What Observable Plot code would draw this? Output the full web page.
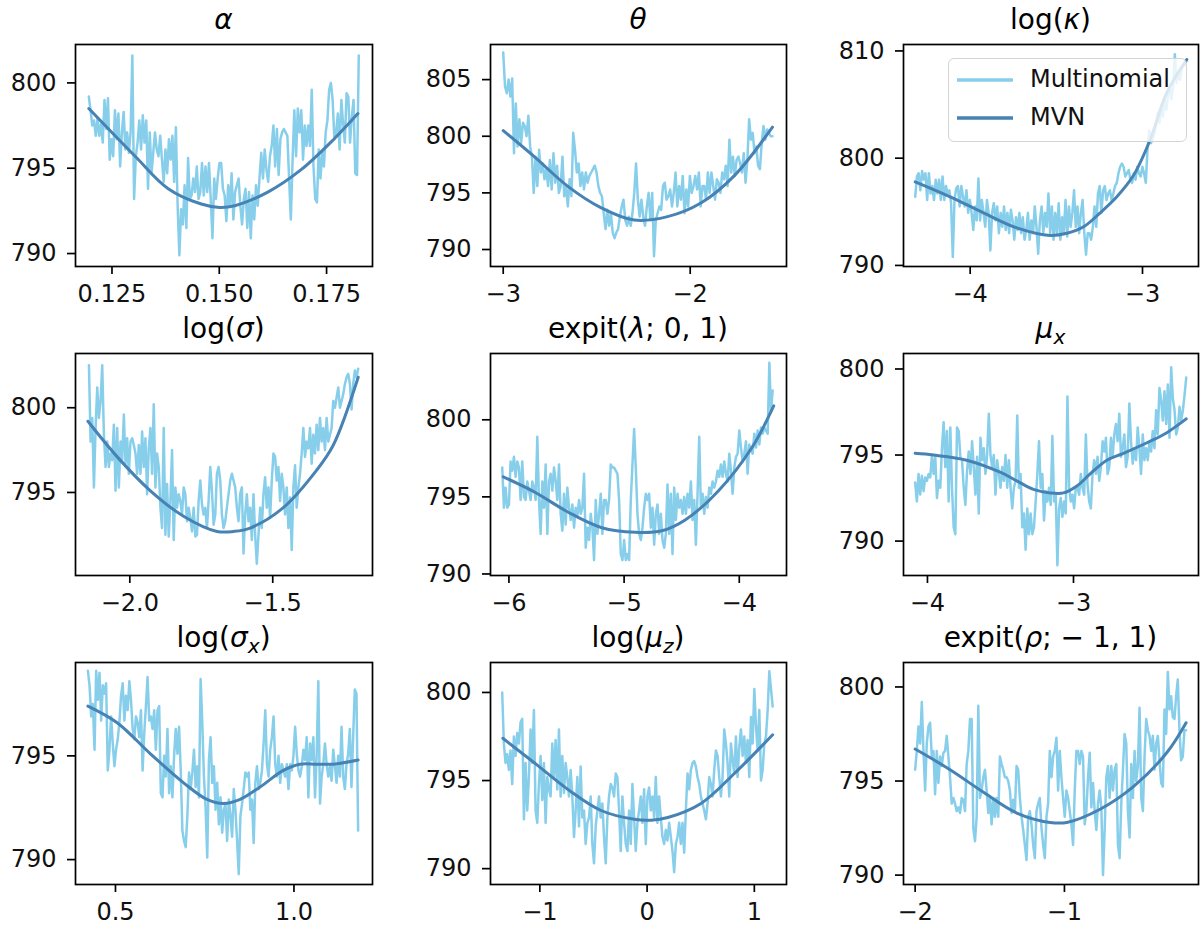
<!DOCTYPE html>
<html><head><meta charset="utf-8">
<script src="https://cdn.jsdelivr.net/npm/d3@7"></script>
<script src="https://cdn.jsdelivr.net/npm/@observablehq/plot@0.6"></script>
<style>
body{margin:0;background:#fff;}
#root{position:relative;width:1204px;height:927px;background:#fff;font-family:"DejaVu Sans",sans-serif;overflow:hidden;}
.panel{position:absolute;}
.panel svg{font-family:"DejaVu Sans",sans-serif;font-size:24px;max-width:none;}
.title{position:absolute;text-align:center;font-size:28px;line-height:28px;color:#000;white-space:nowrap;}
.title i{font-style:italic;}
.sub{font-size:0.72em;position:relative;top:0.28em;line-height:0;}
.legend{position:absolute;left:948px;top:58px;width:239px;height:84px;box-sizing:border-box;border:1.5px solid #d4d4d4;border-radius:6px;background:rgba(255,255,255,0.8);}
.legend span{position:absolute;left:81px;font-size:24px;line-height:24px;color:#111;white-space:nowrap;}
.legend svg{position:absolute;left:0;top:0;}
</style></head><body><div id="root"></div>
<script>
// ---------- data ----------
const titles = ["<i>α</i>", "<i>θ</i>", "log(<i>κ</i>)", "log(<i>σ</i>)", "expit(<i>λ</i>; 0, 1)",
  "<i>μ<span class='sub'>x</span></i>", "log(<i>σ<span class='sub'>x</span></i>)", "log(<i>μ<span class='sub'>z</span></i>)", "expit(<i>ρ</i>; − 1, 1)"];
const seriesNames = ["Multinomial", "MVN"];

// x ranges of the Multinomial grids
const alphaRange = [0.1196, 0.1825];
const thetaRange = [-3.0, -1.56];
const kappaRange = [-4.319, -2.743];
const sigmaRange = [-2.143, -1.201];
const lambdaRange = [-6.058, -3.71];
const muxRange = [-4.084, -2.228];
const sigmaxRange = [0.4227, 1.1797];
const muzRange = [-1.351, 1.171];
const rhoRange = [-2.0, -0.185];

// Multinomial (noisy) values
const alphaMulti = [799.2,798.4,797.5,797.8,796.9,797.9,796.9,797.6,796.5,799.0,797.3,799.1,795.5,796.7,795.7,798.4,796.7,798.2,795.1,797.1,798.3,796.1,797.1,795.9,797.1,801.6,793.2,795.7,796.5,797.8,796.1,798.1,796.5,797.8,793.8,797.1,794.7,795.9,797.1,796.1,795.7,796.9,795.5,794.2,796.1,794.7,796.7,795.5,796.9,794.2,797.4,792.8,789.9,792.6,791.7,794.0,791.5,795.6,793.2,793.4,794.4,793.6,795.1,793.2,793.6,795.3,793.4,795.1,793.6,795.3,793.2,790.9,794.4,793.2,794.4,795.3,795.3,793.8,793.4,791.9,794.0,792.8,794.7,792.0,793.6,794.0,794.4,792.8,791.7,793.2,793.8,791.5,793.6,790.9,793.4,792.0,794.0,792.8,794.4,795.9,794.4,796.1,794.9,794.2,795.7,796.3,797.5,795.1,797.3,794.6,796.7,797.1,797.3,797.1,796.9,794.4,792.0,795.5,798.4,795.7,798.5,797.1,798.4,795.5,797.5,796.3,797.5,796.3,799.6,795.1,793.2,793.0,796.1,794.4,795.9,795.1,797.1,797.8,799.6,800.0,799.0,796.7,797.1,798.2,796.1,799.0,797.6,796.5,799.4,799.2,796.5,798.0,799.0,794.7,794.6,801.6];
const thetaMulti = [807.4,804.4,803.8,805.0,803.5,805.1,798.5,802.9,799.1,801.5,799.4,801.2,800.9,800.0,801.8,799.1,798.2,795.0,798.2,795.6,798.8,796.8,797.6,796.2,797.1,795.6,797.9,795.3,798.5,795.9,797.4,795.0,795.6,798.2,794.7,795.6,793.8,796.2,794.7,800.3,798.8,796.8,797.6,795.6,796.8,795.3,796.8,795.9,796.5,796.8,797.1,797.4,796.8,795.6,795.0,794.7,793.2,791.8,793.5,792.1,793.2,791.5,791.0,791.5,791.8,792.9,793.8,794.4,792.6,792.1,792.9,792.1,793.2,795.0,797.6,794.4,792.9,794.4,792.9,792.1,793.8,795.0,792.6,795.0,789.4,792.6,793.2,793.8,793.5,795.6,795.9,794.4,794.7,795.3,793.8,795.0,796.8,793.8,795.6,794.4,796.5,793.2,795.3,793.8,796.5,795.0,795.6,796.5,795.3,796.8,793.8,795.6,795.6,794.4,796.8,795.0,796.8,795.6,794.4,796.2,795.9,795.0,796.8,796.2,797.4,795.6,799.7,796.8,798.2,796.5,797.9,798.2,797.6,796.8,798.5,795.9,797.9,801.5,799.7,800.3,798.5,799.1,797.4,797.1,799.4,800.9,799.7,800.6,800.3,800.0,800.0];
const kappaMulti = [796.4,798.3,798.6,797.0,798.8,798.0,798.6,796.1,798.6,796.7,797.4,796.1,798.0,796.7,798.0,796.1,798.3,796.1,797.4,796.7,797.0,795.8,790.8,796.1,797.2,797.4,795.5,797.4,796.4,795.5,797.0,794.9,796.1,794.9,793.3,795.5,794.2,798.1,794.2,796.1,794.9,793.6,796.1,794.9,791.4,794.9,795.8,794.2,795.5,793.0,794.9,793.6,795.5,793.3,794.9,793.0,795.2,794.2,792.4,794.5,793.3,794.9,793.0,794.5,792.4,793.3,794.9,792.4,794.2,793.0,795.5,793.6,791.1,794.2,795.5,793.0,794.9,793.6,796.7,793.0,795.5,792.4,794.9,793.0,795.8,792.4,794.5,793.0,796.1,792.7,795.5,793.6,794.9,797.0,793.6,795.5,793.0,794.9,796.1,793.0,791.0,793.0,793.0,792.4,793.6,795.5,793.6,796.7,797.4,794.9,797.0,797.4,796.1,796.7,797.0,796.1,796.7,797.4,797.7,798.6,799.2,799.5,799.2,798.3,798.6,798.9,798.0,797.7,798.6,798.0,799.2,798.6,798.3,799.2,798.6,797.7,800.8,802.6,801.4,801.7,802.3,803.0,804.2,803.3,804.5,803.9,805.5,804.5,805.8,806.7,805.5,806.7,809.7,807.0,807.9,807.3,808.3,808.6,808.7,809.2];
const sigmaMulti = [802.5,798.0,799.4,795.3,798.8,801.2,799.4,800.4,802.5,798.4,796.5,798.0,796.5,797.3,796.9,799.0,795.1,798.8,795.3,798.0,796.9,799.6,796.7,798.2,796.1,798.0,798.2,797.8,797.3,796.1,797.8,796.1,798.6,796.5,798.2,794.9,797.6,798.8,796.1,800.2,795.3,797.3,796.5,794.1,792.9,798.8,792.5,795.5,792.4,794.5,797.5,792.2,795.3,794.1,794.9,794.5,793.7,795.3,794.9,793.3,794.1,793.5,792.7,794.1,792.4,792.5,794.5,795.7,794.3,793.7,794.1,792.9,794.5,796.5,795.1,793.1,793.7,796.1,796.5,795.7,793.7,792.9,793.3,794.1,794.9,795.7,796.1,795.7,795.3,794.1,793.3,794.9,795.3,791.4,793.7,794.9,793.3,794.1,792.2,794.9,792.5,790.8,792.5,794.1,792.9,794.9,795.9,794.1,795.3,793.5,795.7,797.3,797.1,795.7,796.5,794.5,796.1,795.3,793.7,795.3,792.9,794.7,791.6,795.3,796.6,794.1,795.3,796.1,797.3,798.8,797.1,798.0,797.6,798.8,796.7,798.4,797.3,799.0,797.5,799.4,798.0,798.8,797.5,799.4,798.0,798.4,798.8,800.4,800.0,800.6,801.2,800.0,800.4,800.8,801.4,801.8,802.0,801.4,799.9,801.4,802.2,801.8,802.3];
const lambdaMulti = [796.9,794.3,795.6,794.3,794.5,797.3,796.7,797.6,796.3,797.3,796.9,794.8,797.3,795.0,794.8,796.0,795.4,794.8,796.0,795.6,794.8,798.9,794.8,792.6,796.0,794.3,797.1,792.6,796.0,796.5,795.4,796.9,796.0,794.8,797.1,793.9,792.8,795.2,793.2,795.6,794.3,793.5,794.5,793.0,794.3,793.7,794.8,793.9,794.3,796.5,791.7,793.0,792.2,793.9,793.0,790.9,794.8,792.6,793.9,795.2,792.6,794.8,794.8,793.9,794.8,797.1,796.9,796.9,796.7,796.5,794.8,791.3,790.9,792.2,790.9,791.3,790.9,794.8,797.1,799.4,796.9,793.9,792.6,792.2,793.0,794.3,795.2,794.8,795.2,793.0,794.3,791.9,793.9,794.5,792.6,793.9,792.2,791.7,792.6,795.8,792.6,795.2,791.3,795.6,793.5,795.2,794.3,794.8,793.9,795.0,793.9,795.2,794.3,796.0,793.5,794.8,791.9,795.2,798.9,794.3,795.2,793.9,795.0,794.3,795.6,795.2,796.0,795.6,796.0,796.7,796.3,797.1,796.3,797.3,796.5,796.0,797.8,796.7,795.2,796.9,797.6,797.8,799.3,798.2,797.3,797.8,798.6,796.5,798.4,798.0,797.8,799.1,798.2,799.3,798.4,799.5,799.1,799.5,799.3,799.1,803.7,800.6,801.9];
const muxMulti = [793.4,792.3,793.9,792.7,793.8,792.9,793.7,793.5,793.9,793.7,795.0,793.9,794.9,792.5,793.5,793.1,795.4,796.9,794.3,796.4,792.3,796.6,793.1,790.8,790.4,796.6,796.4,794.9,794.7,793.1,792.1,794.1,795.2,793.9,795.8,794.3,792.7,794.9,791.6,796.0,794.7,795.4,793.9,795.0,797.4,795.0,794.3,795.0,792.7,794.7,793.9,793.1,794.3,793.5,795.0,793.1,794.7,793.1,791.9,793.1,793.5,797.3,793.1,793.9,790.8,791.6,789.5,791.9,790.4,791.6,790.4,790.8,792.3,793.9,795.8,793.1,793.9,791.2,792.9,792.3,793.1,792.1,796.1,792.3,792.7,788.6,791.9,792.5,791.4,792.3,791.6,798.4,793.1,792.3,792.7,791.9,793.1,793.1,792.7,793.9,793.1,792.7,796.2,793.3,792.3,791.9,793.9,794.7,793.9,794.9,793.5,794.3,795.8,795.2,796.0,793.9,794.3,796.0,794.9,796.2,796.8,795.8,797.4,794.9,795.4,796.2,794.3,794.9,798.0,795.8,794.5,795.4,794.7,796.6,795.4,793.9,796.2,794.7,795.4,794.7,795.8,795.2,796.4,795.4,797.6,796.2,798.9,798.2,797.0,798.7,796.8,799.1,796.0,800.1,798.3,797.6,796.2,796.6,797.8,797.0,797.6,798.5,799.5];
const sigmaxMulti = [799.1,798.4,796.9,797.5,795.3,799.1,797.7,799.0,796.7,798.4,798.0,798.5,794.3,795.3,796.9,795.6,794.5,795.3,795.8,796.6,797.9,798.5,796.7,797.9,797.2,798.6,797.7,796.3,795.8,796.9,796.6,795.9,797.2,794.3,796.1,797.4,798.8,796.7,796.9,796.3,797.2,795.3,797.2,797.4,793.2,793.0,795.0,794.0,796.3,793.2,794.5,793.0,795.0,796.3,795.1,796.4,794.3,791.4,790.9,790.6,792.1,794.2,793.4,794.2,795.3,793.5,794.5,793.0,798.7,796.6,794.0,792.5,790.1,794.8,795.9,793.7,794.5,792.4,793.7,791.7,793.0,791.3,792.4,792.7,790.9,792.9,792.1,791.1,793.4,792.4,790.9,789.3,792.1,792.7,793.4,794.2,794.0,794.2,792.4,792.9,790.8,793.7,794.5,793.4,793.7,794.3,795.6,797.2,794.6,794.0,795.3,795.9,796.9,794.6,794.0,795.0,793.7,794.6,794.3,794.0,794.6,793.4,794.6,794.3,795.0,796.4,795.1,794.3,794.0,794.5,795.3,794.8,795.9,793.0,795.6,794.8,795.9,793.0,795.0,798.6,792.7,794.0,794.6,795.6,794.6,794.0,794.5,793.8,795.3,794.5,793.7,795.0,794.0,796.4,794.0,793.4,794.6,795.1,796.3,793.5,795.9,798.2,798.0,791.4];
const muzMulti = [800.0,797.1,796.0,796.5,795.6,796.7,794.8,797.5,796.4,797.7,797.1,798.3,798.5,792.8,796.0,793.3,795.2,797.9,796.0,799.0,793.3,792.6,794.8,796.4,793.9,796.0,792.6,795.2,794.5,794.1,797.1,795.2,797.3,794.5,797.9,794.1,796.4,794.3,796.0,795.2,794.1,795.6,794.1,791.8,793.3,795.2,792.4,795.8,792.9,793.3,791.4,792.6,792.9,794.1,791.4,790.3,792.4,793.3,794.1,792.9,793.7,791.8,790.3,792.9,794.1,794.8,794.6,794.1,795.4,795.2,793.3,791.0,794.1,792.6,791.4,791.0,793.3,791.4,794.8,792.9,791.0,792.6,793.3,794.1,792.6,794.5,791.4,794.1,794.6,793.3,794.1,792.9,795.2,792.6,794.1,792.9,791.8,791.4,792.2,791.6,792.6,791.8,791.0,789.8,791.4,791.8,792.6,791.4,792.6,790.9,793.3,795.4,794.5,795.6,796.0,796.1,795.8,795.2,794.8,794.1,793.7,793.3,792.8,793.7,795.2,794.8,794.1,795.6,796.7,796.4,795.2,794.1,795.2,797.9,797.1,796.0,794.1,797.1,796.2,795.4,797.5,795.2,796.9,797.9,796.4,797.5,796.0,797.3,795.2,798.6,797.1,800.2,798.1,796.7,799.0,795.0,795.6,797.1,797.5,799.0,801.2,800.2,799.2];
const rhoMulti = [795.6,796.6,797.9,797.0,799.2,796.6,794.5,797.0,797.9,798.1,796.3,796.6,794.3,796.6,794.9,796.3,795.8,796.5,796.6,797.4,796.3,795.2,793.8,794.1,793.8,793.4,793.6,793.3,794.1,794.0,793.4,795.9,796.6,798.3,798.3,792.5,791.8,793.1,799.0,794.1,794.5,795.2,795.6,794.5,793.3,794.1,792.7,794.1,793.1,794.1,793.1,796.3,795.9,795.6,795.2,795.2,795.0,794.5,793.3,794.0,793.4,795.8,795.6,794.1,793.1,792.4,791.6,790.8,793.1,793.4,792.7,791.6,790.9,793.4,793.8,794.1,792.5,791.6,790.9,793.1,793.8,796.6,795.2,796.3,796.6,797.3,794.5,796.6,795.2,794.1,793.1,794.5,794.1,793.4,792.7,791.6,794.5,796.6,796.6,795.9,796.6,796.3,792.7,793.4,795.2,796.5,793.6,794.9,793.4,792.4,793.8,794.5,793.6,790.0,792.4,795.2,795.8,794.1,795.8,794.5,795.6,795.9,791.6,790.9,793.8,795.6,797.5,797.0,793.4,792.0,795.9,794.1,796.6,795.0,795.8,798.9,794.1,793.4,796.3,798.3,797.7,797.4,796.6,797.4,795.6,797.0,797.4,796.1,794.9,794.7,798.8,797.5,800.8,798.8,799.5,798.4,798.3,799.5,800.4,797.7,796.1,796.3,797.7,797.7];

// MVN (smooth) knots
const alphaMvnX = [0.1196,0.1304,0.1381,0.1458,0.1501,0.1536,0.1613,0.1690,0.1767,0.1823];
const alphaMvnY = [798.5,795.7,793.8,792.9,792.7,792.8,793.6,794.9,796.7,798.2];
const thetaMvnX = [-3.0,-2.834,-2.656,-2.478,-2.299,-2.121,-1.943,-1.765,-1.56];
const thetaMvnY = [800.5,798.2,795.6,793.7,792.6,792.9,794.1,796.5,800.8];
const kappaMvnX = [-4.319,-4.116,-3.923,-3.729,-3.536,-3.439,-3.342,-3.246,-3.149,-3.052,-2.956,-2.859,-2.743];
const kappaMvnY = [797.8,796.4,794.9,793.5,792.8,793.0,793.6,794.9,796.4,798.4,801.7,806.1,809.2];
const sigmaMvnX = [-2.1465,-2.044,-1.928,-1.812,-1.695,-1.637,-1.579,-1.463,-1.347,-1.288,-1.201];
const sigmaMvnY = [799.2,797.1,795.1,793.6,792.7,792.7,792.9,794.1,796.3,797.8,801.8];
const lambdaMvnX = [-6.049,-5.774,-5.484,-5.194,-4.904,-4.672,-4.47,-4.18,-3.89,-3.701];
const lambdaMvnY = [796.3,795.3,794.0,793.0,792.7,792.8,793.5,795.4,798.2,800.9];
const muxMvnX = [-4.084,-3.959,-3.731,-3.502,-3.388,-3.274,-3.16,-3.068,-2.977,-2.886,-2.772,-2.658,-2.475,-2.361,-2.228];
const muxMvnY = [795.1,795.0,794.7,794.0,793.5,793.0,792.8,792.8,793.2,793.9,794.7,795.1,795.8,796.3,797.1];
const sigmaxMvnX = [0.4227,0.5047,0.5978,0.6909,0.7561,0.8026,0.8492,0.905,0.9702,1.0168,1.0633,1.1099,1.1797];
const sigmaxMvnY = [797.4,796.6,795.1,793.7,792.9,792.7,792.9,793.5,794.3,794.6,794.6,794.6,794.8];
const muzMvnX = [-1.345,-1.05,-0.739,-0.429,-0.118,0.037,0.193,0.503,0.814,1.171];
const muzMvnY = [797.4,796.0,794.5,793.3,792.8,792.75,792.9,793.7,795.4,797.6];
const rhoMvnX = [-2.0,-1.766,-1.542,-1.319,-1.096,-0.984,-0.761,-0.538,-0.315,-0.185];
const rhoMvnY = [796.7,795.6,794.4,793.3,792.8,792.8,793.5,794.7,796.5,798.1];

// axis limits and ticks
const xDomains = [[0.1165,0.1857],[-3.068,-1.485],[-4.387,-2.675],[-2.19,-1.151],[-6.16,-3.59],[-4.164,-2.144],[0.388,1.22],[-1.46,1.30],[-2.078,-0.102]];
const yDomains = [[789.24,802.25],[788.5,808.1],[789.9,810.6],[790.1,803.2],[789.9,804.3],[788.0,800.9],[788.8,799.5],[789.1,801.7],[789.5,801.3]];
const xTicks = [[0.125,0.15,0.175],[-3,-2],[-4,-3],[-2.0,-1.5],[-6,-5,-4],[-4,-3],[0.5,1.0],[-1,0,1],[-2,-1]];
const xTickFormats = [".3f","d","d",".1f","d","d",".1f","d","d"];
const yTicks = [[790,795,800],[790,795,800,805],[790,800,810],[795,800],[790,795,800],[790,795,800],[790,795],[790,795,800],[790,795,800]];

const multis = [alphaMulti,thetaMulti,kappaMulti,sigmaMulti,lambdaMulti,muxMulti,sigmaxMulti,muzMulti,rhoMulti];
const ranges = [alphaRange,thetaRange,kappaRange,sigmaRange,lambdaRange,muxRange,sigmaxRange,muzRange,rhoRange];
const mvnXs = [alphaMvnX,thetaMvnX,kappaMvnX,sigmaMvnX,lambdaMvnX,muxMvnX,sigmaxMvnX,muzMvnX,rhoMvnX];
const mvnYs = [alphaMvnY,thetaMvnY,kappaMvnY,sigmaMvnY,lambdaMvnY,muxMvnY,sigmaxMvnY,muzMvnY,rhoMvnY];

// ---------- layout ----------
const colLeft = [75, 490, 903], colWidth = [297, 296, 295];
const rowTop = [44, 353, 662], frameH = 222;
const ML = 80, MR = 14, MT = 8, MB = 52;
const C_MULTI = "#87CEEB", C_MVN = "#4682B4";
const FS = 24;

const root = document.getElementById("root");
for (let k = 0; k < 9; k++) {
  const r = Math.floor(k / 3), c = k % 3;
  const L = colLeft[c], T = rowTop[r], W = colWidth[c];
  const ys = multis[k], [x0, x1] = ranges[k];
  const multi = ys.map((v, i) => ({x: x0 + (x1 - x0) * i / (ys.length - 1), y: v}));
  const mvn = mvnXs[k].map((x, i) => ({x, y: mvnYs[k][i]}));
  const fmt = d3.format(xTickFormats[k]);
  const chart = Plot.plot({
    width: W + ML + MR, height: frameH + MT + MB,
    marginLeft: ML, marginRight: MR, marginTop: MT, marginBottom: MB,
    style: "font-family: 'DejaVu Sans'; font-size: 24px; color: #000; background: transparent; overflow: visible; max-width: none;",
    x: {domain: xDomains[k]},
    y: {domain: yDomains[k]},
    marks: [
      Plot.line(multi, {x: "x", y: "y", stroke: C_MULTI, strokeWidth: 2.5, strokeLinejoin: "round"}),
      Plot.line(mvn, {x: "x", y: "y", stroke: C_MVN, strokeWidth: 3, curve: "catmull-rom"}),
      Plot.frame({stroke: "#000", strokeWidth: 1.7}),
      Plot.axisX({ticks: xTicks[k], tickFormat: fmt, tickSize: 8, tickPadding: 10, strokeWidth: 1.7, label: null, fill: "#111", fontSize: FS}),
      Plot.axisY({ticks: yTicks[k], tickFormat: "d", tickSize: 8, tickPadding: 11, strokeWidth: 1.7, label: null, fill: "#111", fontSize: FS})
    ]
  });
  const div = document.createElement("div");
  div.className = "panel";
  div.style.left = (L - ML) + "px";
  div.style.top = (T - MT) + "px";
  div.appendChild(chart);
  root.appendChild(div);
  const t = document.createElement("div");
  t.className = "title";
  t.style.left = L + "px"; t.style.width = W + "px";
  t.style.top = (T - 38) + "px";
  t.innerHTML = titles[k];
  root.appendChild(t);
}

// legend (in the log(kappa) panel)
const lg = document.createElement("div");
lg.className = "legend";
lg.innerHTML = `<svg width="236" height="81"><line x1="8" x2="64" y1="21" y2="21" stroke="${C_MULTI}" stroke-width="3.3"/><line x1="8" x2="64" y1="59" y2="59" stroke="${C_MVN}" stroke-width="3.3"/></svg>
<span style="top:8px">${seriesNames[0]}</span><span style="top:46px">${seriesNames[1]}</span>`;
root.appendChild(lg);
</script></body></html>
